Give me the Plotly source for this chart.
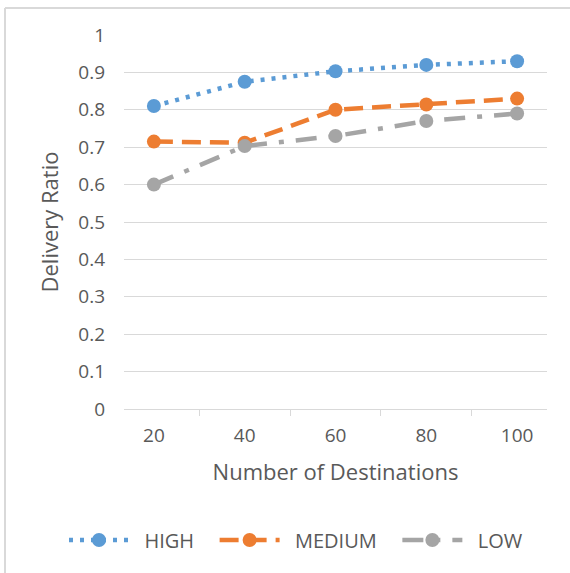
import plotly.graph_objects as go

categories = ["20", "40", "60", "80", "100"]
high = [0.81, 0.875, 0.903, 0.92, 0.93]
medium = [0.715, 0.712, 0.80, 0.814, 0.83]
low = [0.60, 0.703, 0.73, 0.77, 0.79]
yticks = [0, 0.1, 0.2, 0.3, 0.4, 0.5, 0.6, 0.7, 0.8, 0.9, 1]
yticklabels = ["0", "0.1", "0.2", "0.3", "0.4", "0.5", "0.6", "0.7", "0.8", "0.9", "1"]
series_names = ["HIGH", "MEDIUM", "LOW"]

FONT = "Open Sans, sans-serif"
TXT = "#595959"
GRID = "#d9d9d9"
NB = "\u00a0"

fig = go.Figure()
fig.add_trace(go.Scatter(x=categories, y=high, name=NB * 2 + series_names[0] + NB * 3, mode="lines+markers",
                         line=dict(color="#5b9bd5", width=4.5, dash="4px,7px"),
                         marker=dict(size=14, color="#5b9bd5")))
fig.add_trace(go.Scatter(x=categories, y=medium, name=NB * 2 + series_names[1] + NB * 3, mode="lines+markers",
                         line=dict(color="#ed7d31", width=4.5, dash="19px,9px"),
                         marker=dict(size=14, color="#ed7d31")))
fig.add_trace(go.Scatter(x=categories, y=low, name=NB * 2 + series_names[2], mode="lines+markers",
                         line=dict(color="#a5a5a5", width=4.5, dash="21px,12px,5px,12px"),
                         marker=dict(size=14, color="#a5a5a5")))

L, R, T, B = 124, 23, 35, 164
W, H = 570, 573
pw, ph = W - L - R, H - T - B
def px(x):
    return (x - L) / pw
def py(y):
    return (H - B - y) / ph

fig.update_layout(
    width=W, height=H,
    margin=dict(l=L, r=R, t=T, b=B),
    paper_bgcolor="white", plot_bgcolor="white",
    font=dict(family=FONT, color=TXT, size=19),
    showlegend=True,
    legend=dict(orientation="h", x=px(64), xanchor="left", y=py(540), yanchor="middle",
                font=dict(size=20, color=TXT), itemwidth=60, traceorder="normal"),
    xaxis=dict(type="category", tickson="boundaries", ticks="outside", ticklen=6,
               tickcolor=GRID, showline=True, linecolor=GRID, linewidth=1.3,
               showgrid=False, tickfont=dict(size=19, color=TXT), ticklabelstandoff=9,
               title=dict(text="Number of Destinations", font=dict(size=22, color=TXT), standoff=17)),
    yaxis=dict(range=[0, 1], tickvals=yticks, ticktext=yticklabels, showgrid=True,
               gridcolor=GRID, gridwidth=1.3, zeroline=False, showline=False, ticks="",
               tickfont=dict(size=19, color=TXT), ticklabelstandoff=18,
               title=dict(text="Delivery Ratio", font=dict(size=22, color=TXT), standoff=13)),
    shapes=[
        dict(type="line", xref="paper", yref="paper", x0=px(5), x1=px(575), y0=py(8), y1=py(8),
             line=dict(color=GRID, width=2)),
        dict(type="line", xref="paper", yref="paper", x0=px(5), x1=px(5), y0=py(8), y1=py(580),
             line=dict(color=GRID, width=2)),
    ],
    annotations=[
        dict(text="(a)", xref="paper", yref="paper", x=px(292), y=py(5), xanchor="center",
             yanchor="bottom", showarrow=False, font=dict(size=19, color="#000000")),
    ],
)

fig.write_html("out.html")
